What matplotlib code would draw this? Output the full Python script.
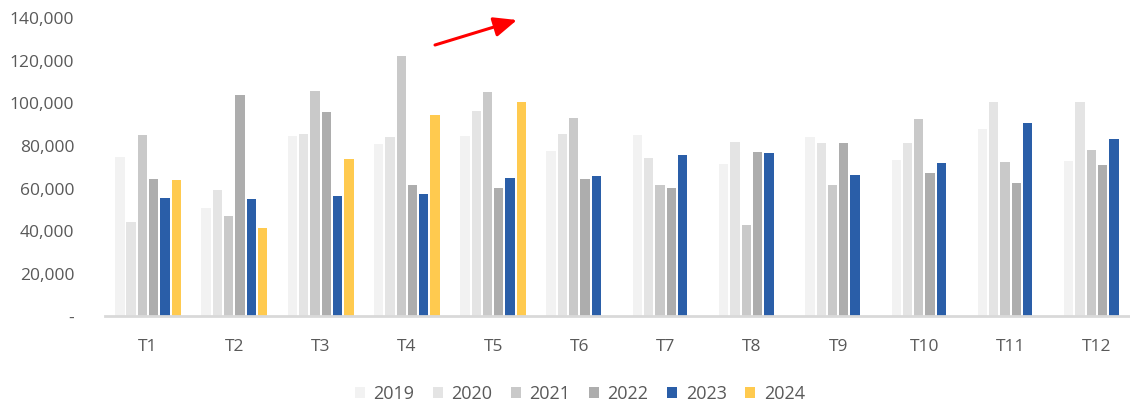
"""Monthly totals T1..T12, 2019-2024, clustered columns."""

import matplotlib.pyplot as plt
import numpy as np
from matplotlib.patches import FancyArrowPatch
from matplotlib.ticker import FuncFormatter

MONTHS = ["T1", "T2", "T3", "T4", "T5", "T6", "T7", "T8", "T9", "T10", "T11", "T12"]
YEARS = ["2019", "2020", "2021", "2022", "2023", "2024"]

V2019 = [75000, 51000, 84500, 81000, 84800, 77700, 85100, 71500, 84300, 73500, 87700, 73000]
V2020 = [44500, 59300, 85400, 84200, 96400, 85600, 74400, 81800, 81600, 81600, 100800, 100800]
V2021 = [85000, 47000, 105800, 122400, 105300, 93100, 61600, 43000, 61600, 92800, 72600, 78200]
V2022 = [64700, 103900, 95700, 61600, 60400, 64400, 60200, 77000, 81600, 67300, 62700, 71000]
V2023 = [55500, 55100, 56300, 57500, 64900, 65900, 75700, 76700, 66500, 72000, 90600, 83100]
V2024 = [64000, 41600, 74000, 94700, 100800]

SERIES = [V2019, V2020, V2021, V2022, V2023, V2024]
COLORS = ["#F2F2F2", "#E4E4E4", "#C9C9C9", "#ADADAD", "#2A5EA8", "#FFCA4F"]
TEXT_COLOR = "#595959"

plt.rcParams["font.family"] = ["Open Sans", "DejaVu Sans"]

fig = plt.figure(figsize=(11.3, 4.04), dpi=100)
ax = fig.add_axes([0.0929, 0.2166, 0.916, 0.7389])

step = 0.131
width = 0.108
x = np.arange(len(MONTHS))
for i, (year, vals, col) in enumerate(zip(YEARS, SERIES, COLORS)):
    xs = x[:len(vals)] + (i - 2.5) * step
    ax.bar(xs, vals, width, color=col, label=year, zorder=2)

ax.set_xlim(-0.5, len(MONTHS) - 0.5)
ax.set_ylim(0, 140000)
ax.set_yticks(np.arange(0, 140001, 20000))
ax.yaxis.set_major_formatter(FuncFormatter(lambda v, _: "-" if v == 0 else f"{v:,.0f}"))
ax.set_xticks(x)
ax.set_xticklabels(MONTHS)
ax.tick_params(axis="both", length=0, labelsize=12.5, colors=TEXT_COLOR)
ax.tick_params(axis="y", pad=22)
ax.tick_params(axis="x", pad=16)
for side in ("top", "right", "left"):
    ax.spines[side].set_visible(False)
ax.spines["bottom"].set_color("#D9D9D9")
ax.spines["bottom"].set_linewidth(2)

# red trend arrow above T4/T5
fig.patches.append(FancyArrowPatch(
    (435 / 1130, 1 - 45 / 404), (517 / 1130, 1 - 20 / 404),
    transform=fig.transFigure, arrowstyle="-|>,head_length=7,head_width=3",
    color="#FF0000", linewidth=2.2, mutation_scale=2, shrinkA=0, shrinkB=0))

fig.legend(loc="center", bbox_to_anchor=(0.513, 1 - 394 / 404), ncol=6, frameon=False,
           fontsize=13, labelcolor=TEXT_COLOR, handlelength=0.55, handleheight=0.55,
           handletextpad=0.5, columnspacing=1.0)

fig.savefig("out.png", dpi=100, facecolor="white")
